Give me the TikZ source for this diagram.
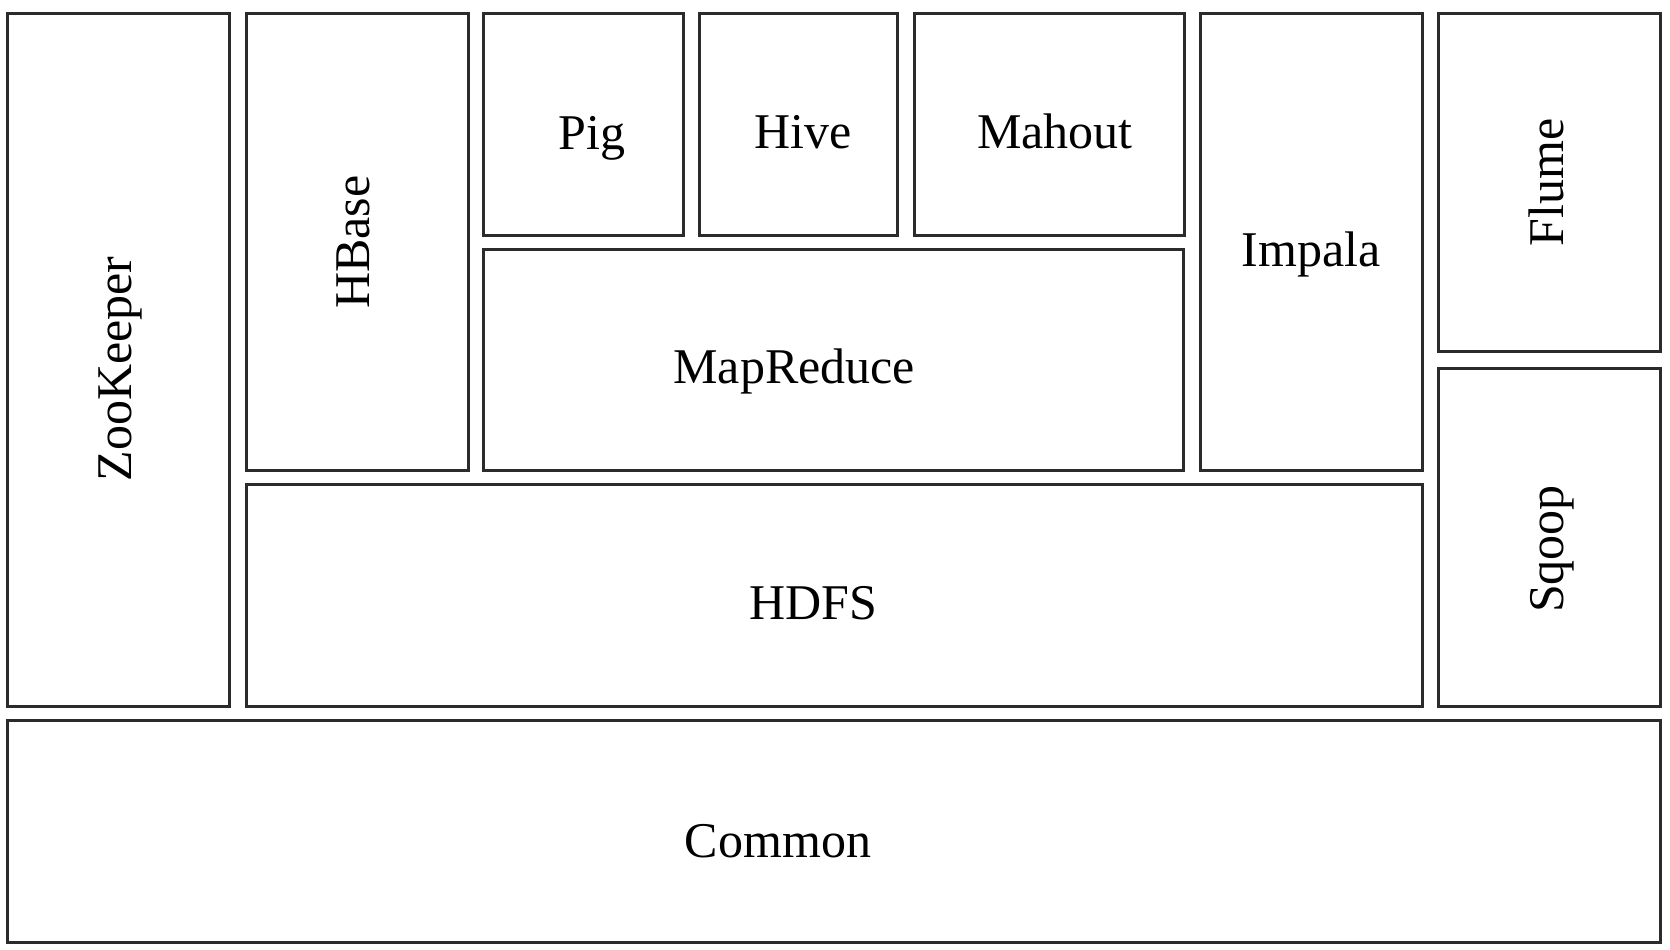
\documentclass[tikz,border=0pt]{standalone}
\usepackage{fontspec}
\setmainfont{Liberation Serif}
\definecolor{edgegray}{HTML}{2B2B2B}
\begin{document}
\begin{tikzpicture}[
        x=1pt, y=-1pt,
        block/.style={rectangle, draw=edgegray, line width=3pt, inner sep=0pt},
        every label/.style={font=\fontsize{50}{60}\selectfont, text height=33pt, text depth=0pt, inner sep=0pt}
    ]
        \useasboundingbox (0,0) rectangle (1670,950);

        % Left column
        \node[block, minimum width=222pt, minimum height=692pt, label={[xshift=-4pt, yshift=-9pt, rotate=90]center:ZooKeeper}] (zookeeper) at (118.5,360) {};

        % Storage and processing
        \node[block, minimum width=221.5pt, minimum height=456pt, label={[xshift=-4pt, rotate=90]center:HBase}] (hbase) at (357.25,242) {};
        \node[block, minimum width=199.5pt, minimum height=221pt, label={[xshift=9pt, yshift=-8pt]center:Pig}] (pig) at (583.25,124.5) {};
        \node[block, minimum width=198pt, minimum height=221pt, label={[xshift=5pt, yshift=-7pt]center:Hive}] (hive) at (798,124.5) {};
        \node[block, minimum width=270pt, minimum height=221pt, label={[xshift=6pt, yshift=-7pt]center:Mahout}] (mahout) at (1049,124.5) {};
        \node[block, minimum width=699.5pt, minimum height=221pt, label={[xshift=-39pt, yshift=-7pt]center:MapReduce}] (mapreduce) at (833.25,359.5) {};
        \node[block, minimum width=222pt, minimum height=456pt, label={[yshift=-8pt]center:Impala}] (impala) at (1311,242) {};
        \node[block, minimum width=1175.5pt, minimum height=222pt, label={[xshift=-21pt, yshift=-8pt]center:HDFS}] (hdfs) at (834.25,595) {};

        % Right column
        \node[block, minimum width=222pt, minimum height=337pt, label={[xshift=-3pt, rotate=90]center:Flume}] (flume) at (1549.5,182.5) {};
        \node[block, minimum width=222pt, minimum height=338pt, label={[xshift=-3pt, yshift=-12pt, rotate=90]center:Sqoop}] (sqoop) at (1549.5,537) {};

        % Bottom
        \node[block, minimum width=1653pt, minimum height=222pt, label={[xshift=-56pt, yshift=-10pt]center:Common}] (common) at (834,831) {};
    \end{tikzpicture}
\end{document}
